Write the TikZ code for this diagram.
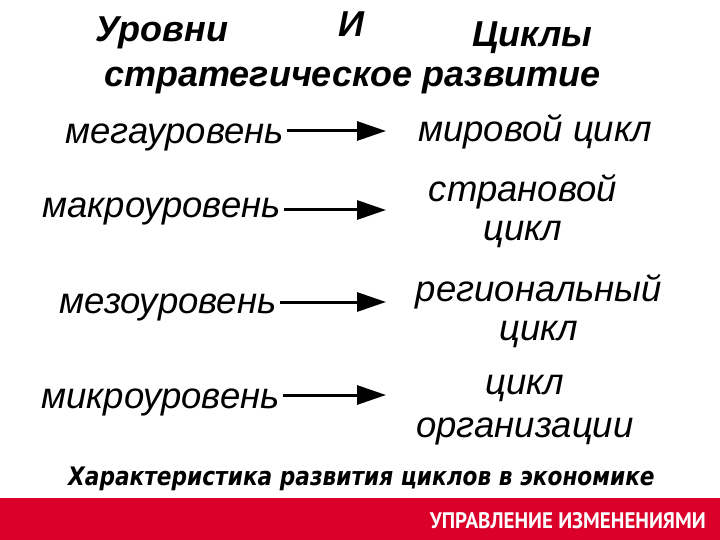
\documentclass[tikz,border=0pt]{standalone}
\usepackage{fontspec}
\setmainfont{Liberation Sans}
\newfontfamily\capfont[FakeStretch=0.85]{DejaVu Sans}
\newfontfamily\footfont[FakeStretch=0.93]{PT Sans}
\usetikzlibrary{arrows.meta}
\definecolor{bandred}{RGB}{218,0,42}

\begin{document}
\begin{tikzpicture}[x=1pt,y=-1pt,
        heading/.style={font=\bfseries\itshape\fontsize{36}{36}\selectfont,inner sep=0pt,anchor=base west},
        level/.style={font=\itshape\fontsize{36.5}{36.5}\selectfont,inner sep=0pt,anchor=base west},
        cyc/.style={font=\itshape\fontsize{36.5}{39}\selectfont,inner sep=0pt,align=center},
        link/.style={-{Triangle[length=29pt,width=19pt]},line width=3pt}
    ]
        \useasboundingbox (0,0) rectangle (720,540);

        % Title
        \node[heading] (levels) at (95,42) {Уровни};
        \node[heading] (and) at (338,37) {И};
        \node[heading] (cycles) at (472,47) {Циклы};
        \node[heading] (strat) at (104,87) {стратегическое развитие};

        % Levels
        \node[level] (mega) at (65,144) {мегауровень};
        \node[level] (macro) at (42,218) {макроуровень};
        \node[level] (meso) at (59,313) {мезоуровень};
        \node[level] (micro) at (41,408) {микроуровень};

        % Cycles
        \node[cyc,anchor=base west] (world) at (418,142) {мировой цикл};
        \node[cyc] (country) at (523,211) {страновой\\цикл};
        \node[cyc] (region) at (539,311) {региональный\\цикл};
        \node[cyc] (firm) at (525,410) {цикл\\[4pt]организации};

        % Arrow tips
        \coordinate (tip1) at (386,131);
        \coordinate (tip2) at (386,210);
        \coordinate (tip3) at (386,302);
        \coordinate (tip4) at (386,395);

        % Draw the arrows
        \draw[link,shorten <=3pt] (mega.east |- tip1) -- (tip1);
        \draw[link,shorten <=3pt] (macro.east |- tip2) -- (tip2);
        \draw[link,shorten <=3pt] (meso.east |- tip3) -- (tip3);
        \draw[link,shorten <=3pt] (micro.east |- tip4) -- (tip4);

        % Caption
        \node[font=\capfont\bfseries\itshape\fontsize{25.5}{25.5}\selectfont,inner sep=0pt,anchor=base west] (caption) at (68,485) {Характеристика развития циклов в экономике};

        % Footer band
        \fill[bandred] (0,498) rectangle (720,540);
        \node[font=\footfont\bfseries\fontsize{22.5}{22.5}\selectfont,text=white,inner sep=0pt,anchor=base east] (footer) at (706,528) {УПРАВЛЕНИЕ ИЗМЕНЕНИЯМИ};
    \end{tikzpicture}
\end{document}
